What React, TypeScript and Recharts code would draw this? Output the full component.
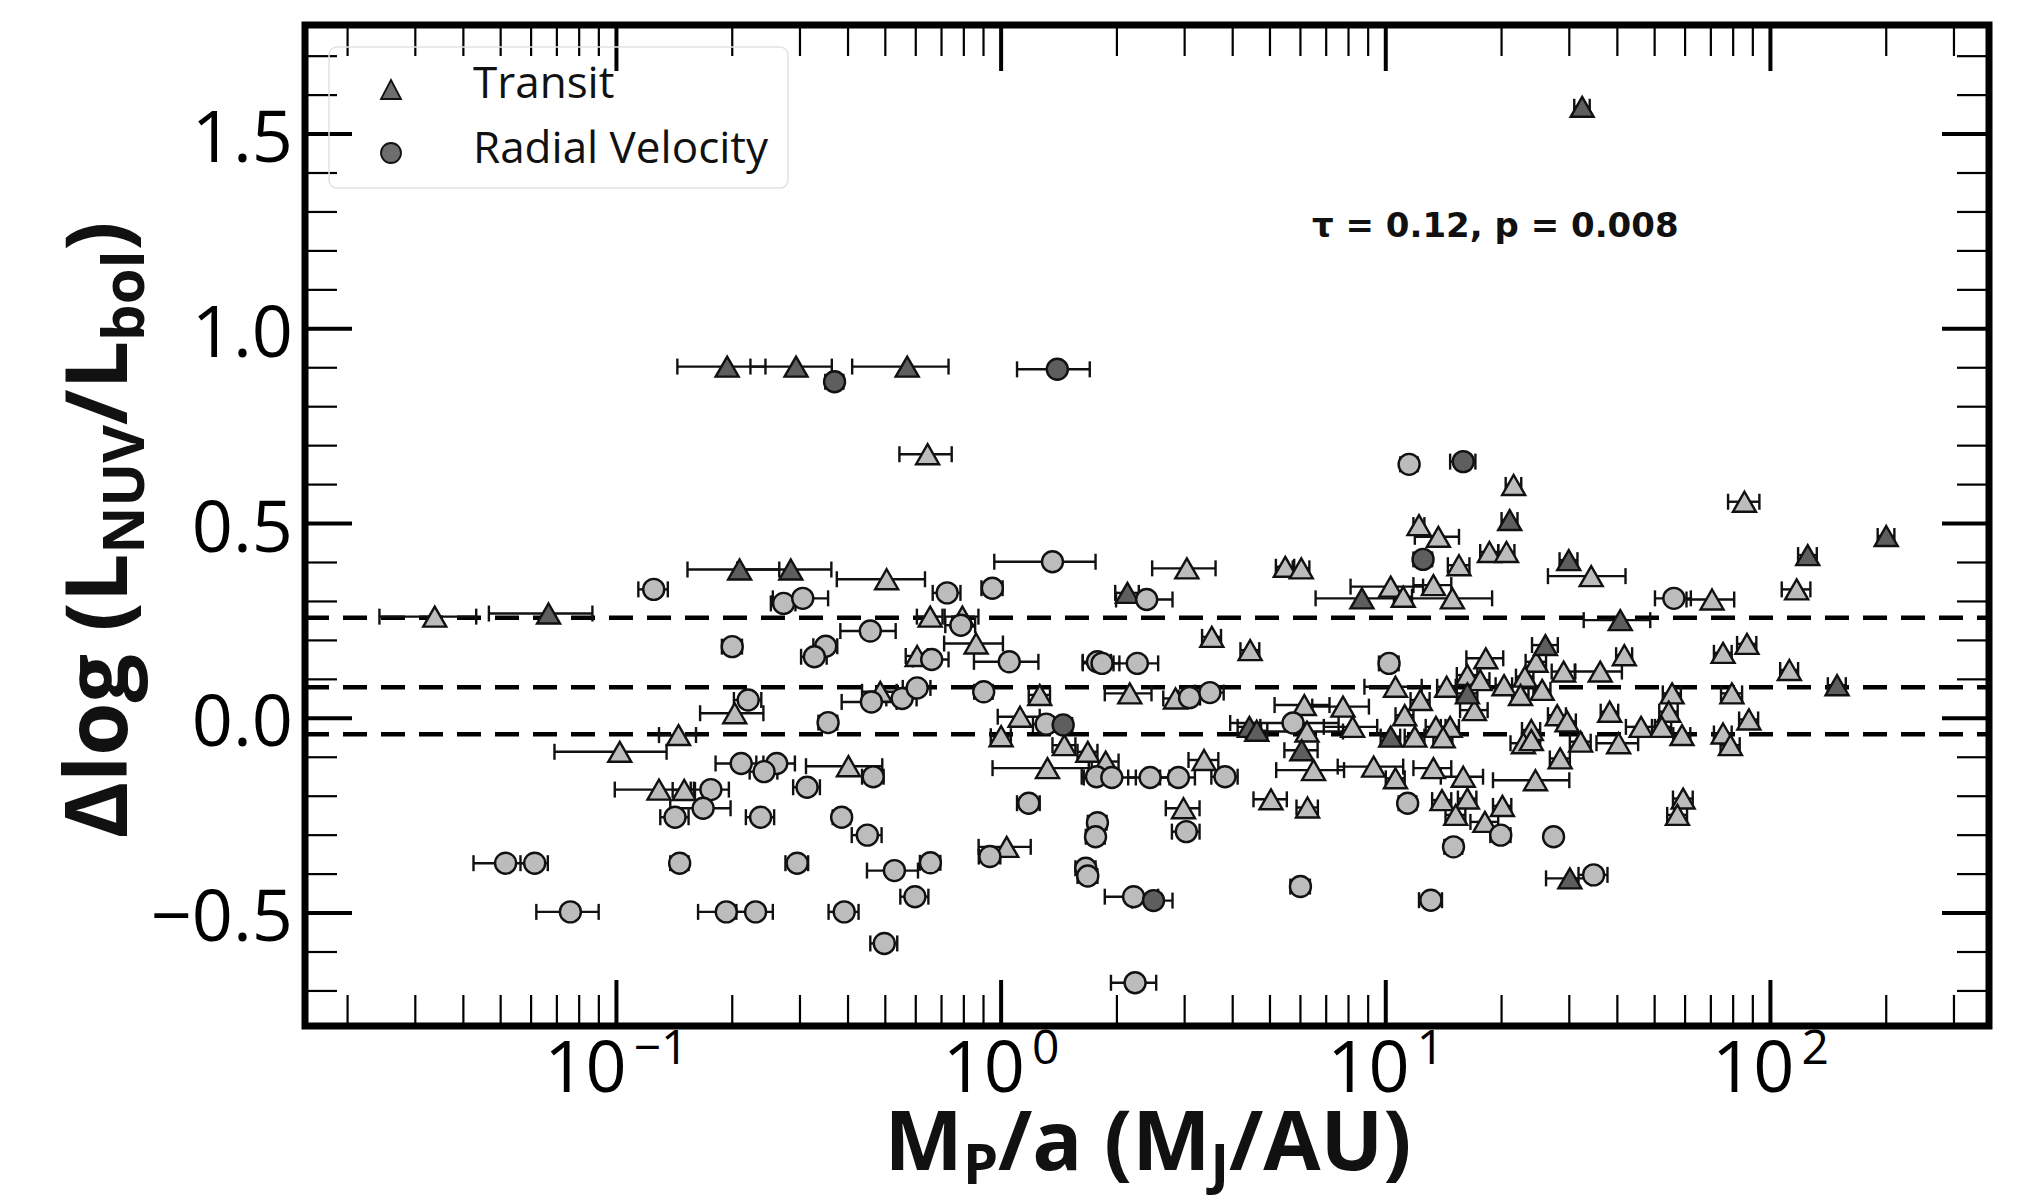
import React from 'react';
import {
  ScatterChart,
  Scatter,
  XAxis,
  YAxis,
  ErrorBar,
  ReferenceLine,
  ReferenceArea,
} from 'recharts';

// ---------- data: [Mp/a (MJ/AU), Δlog(LNUV/Lbol), x error] ----------
const transitLight: [number, number, number][] = [
  [0.0337, 0.261, 0.0095], [0.102, -0.086, 0.033], [0.145, -0.043, 0.016], [0.129, -0.183, 0.03],
  [0.15, -0.184, 0.01], [0.203, 0.013, 0.038], [0.485, 0.068, 0.05], [0.401, -0.123, 0.09],
  [0.644, 0.678, 0.1], [0.504, 0.357, 0.13], [0.654, 0.261, 0.05], [0.793, 0.261, 0.08],
  [0.861, 0.192, 0.15], [0.605, 0.16, 0.04], [1.26, 0.06, 0.08], [1.12, 0.004, 0.14],
  [1.0, -0.046, 0.06], [1.46, -0.069, 0.1], [1.68, -0.086, 0.1], [1.32, -0.128, 0.37],
  [1.034, -0.33, 0.16], [3.04, 0.385, 0.57], [5.48, 0.389, 0.3], [6.03, 0.385, 0.3],
  [10.3, 0.338, 2.2], [11.1, 0.312, 0.6], [3.53, 0.209, 0.2], [4.44, 0.175, 0.25],
  [2.16, 0.064, 0.3], [2.84, 0.051, 0.2], [10.6, 0.081, 1.8], [6.14, 0.034, 1.0],
  [7.74, 0.03, 1.3], [11.2, 0.008, 0.6], [6.24, -0.034, 1.5], [8.2, -0.022, 1.3],
  [6.49, -0.133, 1.3], [9.3, -0.124, 1.8], [10.6, -0.154, 0.6], [1.87, -0.111, 0.15],
  [3.37, -0.107, 0.3], [2.98, -0.231, 0.3], [5.03, -0.208, 0.5], [6.26, -0.229, 0.4],
  [12.2, 0.496, 0.4], [13.7, 0.466, 1.8], [15.5, 0.393, 1.0], [18.6, 0.427, 1.0],
  [20.6, 0.427, 1.0], [21.5, 0.599, 1.0], [34.2, 0.365, 7.8], [70.5, 0.305, 10],
  [13.3, 0.342, 1.5], [14.9, 0.308, 4], [24.6, 0.145, 1.5], [18.2, 0.154, 2],
  [41.7, 0.162, 2], [29.0, 0.12, 2], [36.1, 0.12, 5], [16.3, 0.111, 1],
  [17.6, 0.098, 1], [23.0, 0.107, 1.2], [14.4, 0.081, 0.8], [20.3, 0.085, 1],
  [25.5, 0.073, 1.3], [22.4, 0.06, 1.1], [12.3, 0.047, 0.7], [55.5, 0.064, 3],
  [54.4, 0.017, 3], [17.0, 0.021, 1.4], [27.9, 0.008, 1.5], [29.6, -0.008, 1.6],
  [38.2, 0.017, 2], [46.1, -0.022, 4], [52.2, -0.022, 3], [13.5, -0.022, 0.8],
  [14.7, -0.022, 0.8], [23.9, -0.03, 1.3], [11.9, -0.047, 0.7], [14.1, -0.049, 0.8],
  [22.8, -0.064, 1.7], [23.9, -0.056, 1.3], [32.1, -0.06, 2], [28.4, -0.103, 1.7],
  [40.3, -0.064, 5], [58.9, -0.043, 3], [13.3, -0.128, 1.5], [15.9, -0.15, 2],
  [24.5, -0.159, 5.5], [14.0, -0.21, 0.8], [16.3, -0.206, 0.9], [15.2, -0.248, 0.9],
  [20.1, -0.225, 1.1], [18.1, -0.266, 1.5], [59.3, -0.206, 3.5], [57.3, -0.248, 3.4],
  [85.6, 0.556, 8], [117, 0.331, 10], [75.3, 0.168, 4], [86.9, 0.191, 5],
  [112, 0.124, 6], [79.4, 0.064, 5], [87.9, -0.003, 5], [75.3, -0.039, 4],
  [78.7, -0.069, 4.5],
];

const transitDark: [number, number, number][] = [
  [0.0666, 0.269, 0.02], [0.194, 0.903, 0.05], [0.293, 0.903, 0.07], [0.57, 0.903, 0.16],
  [0.209, 0.382, 0.056], [0.284, 0.382, 0.078], [2.13, 0.322, 0.15], [8.67, 0.308, 2.1],
  [21.0, 0.509, 1.0], [29.9, 0.406, 1.6], [40.7, 0.252, 8], [26.0, 0.188, 2],
  [16.3, 0.064, 1], [4.42, -0.022, 0.3], [4.62, -0.032, 0.3], [6.05, -0.082, 0.6],
  [10.3, -0.047, 0.6], [30.1, -0.411, 4], [200, 0.468, 10], [125, 0.419, 7],
  [149, 0.085, 8], [32.4, 1.57, 1.5],
];

const rvLight: [number, number, number][] = [
  [0.0515, -0.372, 0.009], [0.0613, -0.372, 0.005], [0.0759, -0.497, 0.014], [0.125, 0.331, 0.011],
  [0.142, -0.254, 0.012], [0.146, -0.372, 0.008], [0.176, -0.183, 0.02], [0.168, -0.231, 0.03],
  [0.2, 0.184, 0.012], [0.22, 0.047, 0.018], [0.211, -0.116, 0.03], [0.261, -0.116, 0.03],
  [0.242, -0.137, 0.02], [0.237, -0.254, 0.02], [0.193, -0.497, 0.03], [0.23, -0.497, 0.025],
  [0.272, 0.295, 0.02], [0.305, 0.308, 0.05], [0.35, 0.185, 0.025], [0.327, 0.158, 0.025],
  [0.313, -0.177, 0.025], [0.295, -0.372, 0.02], [0.355, -0.011, 0.02], [0.385, -0.254, 0.02],
  [0.391, -0.497, 0.035], [0.465, -0.15, 0.03], [0.449, -0.3, 0.04], [0.457, 0.224, 0.075],
  [0.46, 0.042, 0.075], [0.553, 0.051, 0.05], [0.605, 0.078, 0.05], [0.528, -0.391, 0.08],
  [0.655, -0.371, 0.04], [0.597, -0.458, 0.05], [0.497, -0.578, 0.04], [0.724, 0.322, 0.06],
  [0.786, 0.239, 0.07], [0.66, 0.151, 0.07], [0.949, 0.334, 0.06], [0.901, 0.068, 0.05],
  [1.05, 0.145, 0.2], [1.36, 0.402, 0.4], [1.18, -0.218, 0.08], [0.935, -0.355, 0.06],
  [1.31, -0.015, 0.1], [1.77, -0.15, 0.15], [1.78, 0.145, 0.15], [1.66, -0.385, 0.1],
  [1.68, -0.405, 0.1], [1.78, -0.268, 0.1], [1.76, -0.304, 0.1], [2.39, 0.305, 0.4],
  [1.83, 0.141, 0.2], [2.26, 0.141, 0.3], [3.09, 0.053, 0.2], [3.49, 0.066, 0.3],
  [10.2, 0.141, 0.6], [1.94, -0.152, 0.3], [2.44, -0.152, 0.3], [2.89, -0.152, 0.3],
  [3.82, -0.15, 0.3], [3.03, -0.291, 0.25], [6.0, -0.432, 0.35], [2.21, -0.458, 0.35],
  [2.23, -0.679, 0.3], [5.74, -0.012, 1.8], [11.5, 0.652, 0.6], [11.4, -0.218, 0.6],
  [56.1, 0.308, 6], [19.9, -0.3, 1.2], [27.3, -0.304, 1.2], [15.0, -0.33, 0.8],
  [34.7, -0.402, 3], [13.1, -0.467, 0.9],
];

const rvDark: [number, number, number][] = [
  [0.369, 0.864, 0.02], [1.4, 0.896, 0.3], [15.9, 0.659, 1.2], [12.5, 0.408, 0.7],
  [1.45, -0.017, 0.08], [2.49, -0.468, 0.3],
];

const dashedLevels = [0.258, 0.08, -0.041];

const X_MIN = 0.0155;
const X_MAX = 370;
const Y_MIN = -0.79;
const Y_MAX = 1.78;
const xMajorTicks = [0.1, 1, 10, 100];
const xMinorTicks = [
  0.02, 0.03, 0.04, 0.05, 0.06, 0.07, 0.08, 0.09,
  0.2, 0.3, 0.4, 0.5, 0.6, 0.7, 0.8, 0.9,
  2, 3, 4, 5, 6, 7, 8, 9,
  20, 30, 40, 50, 60, 70, 80, 90,
  200, 300,
];
const yMajorTicks = [-0.5, 0, 0.5, 1.0, 1.5];
const yMinorTicks = [
  -0.7, -0.6, -0.4, -0.3, -0.2, -0.1, 0.1, 0.2, 0.3, 0.4, 0.6, 0.7, 0.8, 0.9,
  1.1, 1.2, 1.3, 1.4, 1.6, 1.7,
];
const yTickLabels: Record<string, string> = {
  '-0.5': '\u22120.5', '0': '0.0', '0.5': '0.5', '1': '1.0', '1.5': '1.5',
};

// ---------- layout ----------
const W = 2041;
const H = 1203;
const M_TOP = 25;
const M_RIGHT = 52;
const X_AXIS_H = 177;
const Y_AXIS_W = 305;
const PLOT_W = W - Y_AXIS_W - M_RIGHT;
const PLOT_H = H - M_TOP - X_AXIS_H;
const PX_PER_Y = PLOT_H / (Y_MAX - Y_MIN);
const PX_PER_DEC = PLOT_W / Math.log10(X_MAX / X_MIN);

const FONT = '"Open Sans", "Noto Sans", sans-serif';
const LIGHT = '#bcbcbc';
const DARK = '#5e5e5e';
const EDGE = '#111';

const toPts = (arr: [number, number, number][]) => arr.map(([x, y, e]) => ({ x, y, e }));

const Tri = (props: any) => {
  const { cx, cy, fill } = props;
  if (cx == null || cy == null) return <g />;
  const w = 11.5;
  const h = 10;
  return (
    <path
      d={`M${cx},${cy - h} L${cx + w},${cy + h} L${cx - w},${cy + h} Z`}
      fill={fill}
      stroke={EDGE}
      strokeWidth={2.4}
    />
  );
};

const Dot = (props: any) => {
  const { cx, cy, fill } = props;
  if (cx == null || cy == null) return <g />;
  return <circle cx={cx} cy={cy} r={10.5} fill={fill} stroke={EDGE} strokeWidth={2.4} />;
};

const Empty = () => <g />;

const XTick = (props: any) => {
  const { x, y, payload } = props;
  const exp = Math.round(Math.log10(payload.value));
  const sup = exp < 0 ? `\u2212${-exp}` : `${exp}`;
  return (
    <text x={x} y={y + 66} textAnchor="middle" fontFamily={FONT} fontSize={72} fill="#000">
      <tspan>10</tspan>
      <tspan dx={7} dy={-28} fontSize={48}>{sup}</tspan>
    </text>
  );
};

const YTick = (props: any) => {
  const { x, y, payload } = props;
  const key = String(payload.value);
  return (
    <text x={x - 12} y={y + 28} textAnchor="end" fontFamily={FONT} fontSize={72} fill="#000">
      {yTickLabels[key] ?? key}
    </text>
  );
};

const tickLines = () => {
  const out: React.ReactNode[] = [];
  const xSeg = (v: number, len: number, w: number, top: boolean, k: string) => {
    const dy = len / PX_PER_Y;
    const seg = top
      ? [{ x: v, y: Y_MAX }, { x: v, y: Y_MAX - dy }]
      : [{ x: v, y: Y_MIN }, { x: v, y: Y_MIN + dy }];
    out.push(
      <ReferenceLine key={k} segment={seg as any} stroke="#000" strokeWidth={w} ifOverflow="visible" />
    );
  };
  const ySeg = (v: number, len: number, w: number, right: boolean, k: string) => {
    const f = Math.pow(10, len / PX_PER_DEC);
    const seg = right
      ? [{ x: X_MAX / f, y: v }, { x: X_MAX, y: v }]
      : [{ x: X_MIN, y: v }, { x: X_MIN * f, y: v }];
    out.push(
      <ReferenceLine key={k} segment={seg as any} stroke="#000" strokeWidth={w} ifOverflow="visible" />
    );
  };
  xMinorTicks.forEach((v) => {
    xSeg(v, 31, 2.2, false, `xb${v}`);
    xSeg(v, 31, 2.2, true, `xt${v}`);
  });
  xMajorTicks.forEach((v) => {
    xSeg(v, 46, 4, false, `XB${v}`);
    xSeg(v, 46, 4, true, `XT${v}`);
  });
  yMinorTicks.forEach((v) => {
    ySeg(v, 32, 2.2, false, `yl${v}`);
    ySeg(v, 32, 2.2, true, `yr${v}`);
  });
  yMajorTicks.forEach((v) => {
    ySeg(v, 47, 4, false, `YL${v}`);
    ySeg(v, 47, 4, true, `YR${v}`);
  });
  return out;
};

const Overlay = () => (
  <svg
    width={W}
    height={H}
    style={{ position: 'absolute', left: 0, top: 0, pointerEvents: 'none' }}
  >
    {/* legend */}
    <rect x={329} y={47} width={459} height={141} rx={8} fill="none" stroke="#e2e2e2" strokeWidth={1.5} />
    <path d="M391,80 L401,99 L381,99 Z" fill="#6e6e6e" stroke={EDGE} strokeWidth={1.8} />
    <circle cx={391} cy={153} r={10} fill="#6e6e6e" stroke={EDGE} strokeWidth={1.8} />
    <text x={473} y={98} fontFamily={FONT} fontSize={44} fill="#111">Transit</text>
    <text x={473} y={163} fontFamily={FONT} fontSize={44} fill="#111">Radial Velocity</text>

    {/* statistic annotation */}
    <text
      x={1312}
      y={237}
      fontFamily='"DejaVu Sans", sans-serif'
      fontWeight={700}
      fontSize={34}
      fill="#111"
    >
      τ = 0.12, p = 0.008
    </text>

    {/* x axis title */}
    <text x={1148} y={1170} textAnchor="middle" fontFamily={FONT} fontWeight={700} fontSize={83} fill="#111">
      <tspan>M</tspan>
      <tspan dy={14} fontSize={56}>P</tspan>
      <tspan dy={-14}>/a (M</tspan>
      <tspan dy={14} fontSize={56}>J</tspan>
      <tspan dy={-14}>/AU)</tspan>
    </text>

    {/* y axis title */}
    <text
      x={127}
      y={530}
      transform="rotate(-90 127 530)"
      textAnchor="middle"
      fontFamily={FONT}
      fontWeight={700}
      fontSize={86}
      fill="#111"
    >
      <tspan>Δlog (L</tspan>
      <tspan dy={17} fontSize={58}>NUV</tspan>
      <tspan dy={-17}>/L</tspan>
      <tspan dy={17} fontSize={58}>bol</tspan>
      <tspan dy={-17}>)</tspan>
    </text>
  </svg>
);

export default function App() {
  const tl = toPts(transitLight);
  const td = toPts(transitDark);
  const rl = toPts(rvLight);
  const rd = toPts(rvDark);
  const all = [...tl, ...td, ...rl, ...rd];
  return (
    <div style={{ position: 'absolute', left: 0, top: 0, width: W, height: H, background: '#fff' }}>
      <ScatterChart width={W} height={H} margin={{ top: M_TOP, right: M_RIGHT, bottom: 0, left: 0 }}>
        <XAxis
          type="number"
          dataKey="x"
          scale="log"
          domain={[X_MIN, X_MAX]}
          allowDataOverflow
          ticks={xMajorTicks}
          interval={0}
          height={X_AXIS_H}
          tickLine={false}
          axisLine={false}
          tickSize={0}
          tickMargin={0}
          tick={XTick}
        />
        <YAxis
          type="number"
          dataKey="y"
          domain={[Y_MIN, Y_MAX]}
          allowDataOverflow
          ticks={yMajorTicks}
          interval={0}
          width={Y_AXIS_W}
          tickLine={false}
          axisLine={false}
          tickSize={0}
          tickMargin={0}
          tick={YTick}
        />
        {dashedLevels.map((v) => (
          <ReferenceLine key={`d${v}`} y={v} stroke="#000" strokeWidth={4.5} strokeDasharray="24 14" />
        ))}
        <Scatter data={tl} shape={(p: any) => <Tri {...p} fill={LIGHT} />} isAnimationActive={false} />
        <Scatter data={td} shape={(p: any) => <Tri {...p} fill={DARK} />} isAnimationActive={false} />
        <Scatter data={rl} shape={(p: any) => <Dot {...p} fill={LIGHT} />} isAnimationActive={false} />
        <Scatter data={rd} shape={(p: any) => <Dot {...p} fill={DARK} />} isAnimationActive={false} />
        <Scatter data={all} shape={Empty} isAnimationActive={false}>
          <ErrorBar dataKey="e" direction="x" width={8} stroke="#111" strokeWidth={2.4} isAnimationActive={false} />
        </Scatter>
        {tickLines()}
        <ReferenceArea
          x1={X_MIN}
          x2={X_MAX}
          y1={Y_MIN}
          y2={Y_MAX}
          fill="none"
          fillOpacity={0}
          stroke="#000"
          strokeWidth={7}
          ifOverflow="visible"
        />
      </ScatterChart>
      <Overlay />
    </div>
  );
}
